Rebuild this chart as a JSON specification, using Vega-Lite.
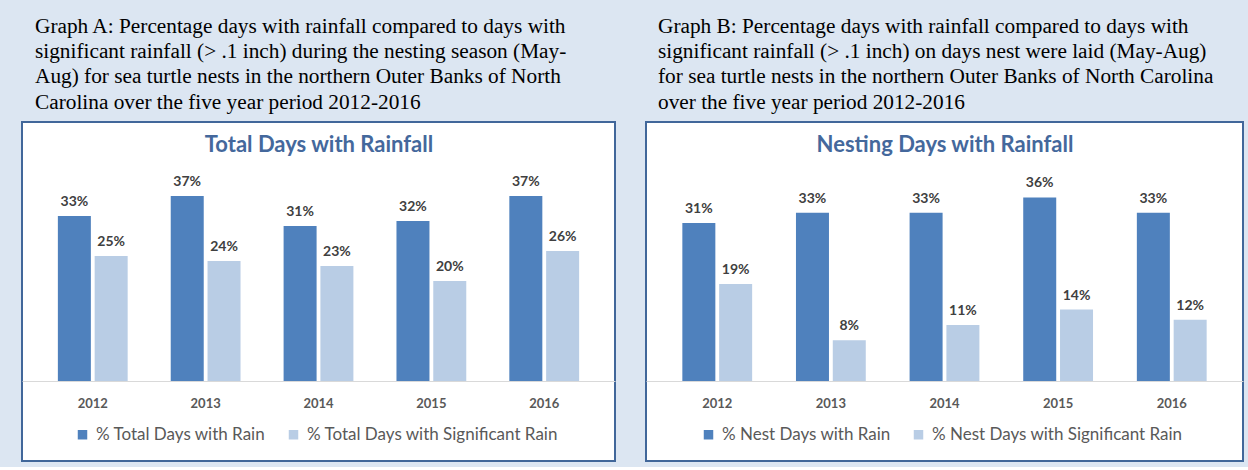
{
  "$schema": "https://vega.github.io/schema/vega-lite/v6.json",
  "background": "#dce6f2",
  "padding": {"left": 21, "top": 14, "right": 5, "bottom": 5},
  "autosize": {"type": "pad"},
  "spacing": 29,
  "datasets": {
    "total": [
      {"year": "2012", "series": "% Total Days with Rain", "value": 0.33},
      {"year": "2012", "series": "% Total Days with Significant Rain", "value": 0.25},
      {"year": "2013", "series": "% Total Days with Rain", "value": 0.37},
      {"year": "2013", "series": "% Total Days with Significant Rain", "value": 0.24},
      {"year": "2014", "series": "% Total Days with Rain", "value": 0.31},
      {"year": "2014", "series": "% Total Days with Significant Rain", "value": 0.23},
      {"year": "2015", "series": "% Total Days with Rain", "value": 0.32},
      {"year": "2015", "series": "% Total Days with Significant Rain", "value": 0.20},
      {"year": "2016", "series": "% Total Days with Rain", "value": 0.37},
      {"year": "2016", "series": "% Total Days with Significant Rain", "value": 0.26}
    ],
    "nest": [
      {"year": "2012", "series": "% Nest Days with Rain", "value": 0.31},
      {"year": "2012", "series": "% Nest Days with Significant Rain", "value": 0.19},
      {"year": "2013", "series": "% Nest Days with Rain", "value": 0.33},
      {"year": "2013", "series": "% Nest Days with Significant Rain", "value": 0.08},
      {"year": "2014", "series": "% Nest Days with Rain", "value": 0.33},
      {"year": "2014", "series": "% Nest Days with Significant Rain", "value": 0.11},
      {"year": "2015", "series": "% Nest Days with Rain", "value": 0.36},
      {"year": "2015", "series": "% Nest Days with Significant Rain", "value": 0.14},
      {"year": "2016", "series": "% Nest Days with Rain", "value": 0.33},
      {"year": "2016", "series": "% Nest Days with Significant Rain", "value": 0.12}
    ]
  },
  "config": {
    "view": {"fill": "#ffffff", "stroke": "#41679a", "strokeWidth": 2},
    "font": "Lato",
    "title": {"font": "Liberation Serif", "fontSize": 21.3, "fontWeight": "normal", "color": "#000000", "anchor": "start", "lineHeight": 25.3, "offset": 9, "frame": "group"},
    "axis": {"grid": false},
    "bar": {"width": 33},
    "text": {"baseline": "alphabetic", "dy": -10, "font": "Lato", "fontSize": 14, "fontWeight": "bold", "color": "#404040"},
    "legend": {"orient": "none", "direction": "horizontal", "symbolType": "square", "symbolSize": 90, "symbolStrokeWidth": 0, "labelFont": "Lato", "labelFontSize": 17, "labelColor": "#595959", "labelLimit": 400, "columnPadding": 19, "labelOffset": 5, "title": null, "legendX": 52, "legendY": 304}
  },
  "resolve": {"scale": {"color": "independent"}, "legend": {"color": "independent"}},
  "hconcat": [
    {
      "width": 593,
      "height": 339,
      "title": {"text": ["Graph A: Percentage days with rainfall compared to days with", "significant rainfall (> .1 inch) during the nesting season (May-", "Aug) for sea turtle nests in the northern Outer Banks of North", "Carolina over the five year period 2012-2016"], "dx": 13},
      "data": {"name": "total"},
      "encoding": {
        "x": {"field": "year", "type": "nominal", "scale": {"paddingInner": 0.386, "paddingOuter": 0.32}, "axis": null},
        "y": {"field": "value", "type": "quantitative", "scale": {"domain": [-0.16, 0.518], "nice": false, "zero": false}, "axis": null}
      },
      "resolve": {"axis": {"x": "independent"}},
      "layer": [
        {
          "transform": [{"filter": "datum.series === '% Total Days with Rain'"}],
          "mark": {"type": "bar", "xOffset": -18.4},
          "encoding": {
            "x": {"field": "year", "type": "nominal",
              "axis": {"orient": "bottom", "offset": -80, "title": null, "domainColor": "#d9d9d9", "domainWidth": 1, "ticks": false, "tickSize": 0, "labelPadding": 26, "labelBaseline": "alphabetic", "labelAngle": 0, "labelFont": "Lato", "labelFontSize": 13, "labelFontWeight": "bold", "labelColor": "#595959"}},
            "color": {"field": "series", "type": "nominal", "scale": {"domain": ["% Total Days with Rain", "% Total Days with Significant Rain"], "range": ["#4f81bd", "#b9cde5"]}}
          }
        },
        {
          "transform": [{"filter": "datum.series === '% Total Days with Significant Rain'"}],
          "mark": {"type": "bar", "xOffset": 18.4},
          "encoding": {
            "color": {"field": "series", "type": "nominal"}
          }
        },
        {
          "transform": [{"filter": "datum.series === '% Total Days with Rain'"}],
          "mark": {"type": "text", "xOffset": -18.4},
          "encoding": {
            "text": {"field": "value", "type": "quantitative", "format": ".0%"}
          }
        },
        {
          "transform": [{"filter": "datum.series === '% Total Days with Significant Rain'"}],
          "mark": {"type": "text", "xOffset": 18.4},
          "encoding": {
            "x": {"field": "year", "type": "nominal",
              "axis": {"orient": "top", "offset": -34, "title": "Total Days with Rainfall", "titleFont": "Lato", "titleFontSize": 22, "titleFontWeight": "bold", "titleColor": "#44689c", "titlePadding": 0, "labels": false, "ticks": false, "domain": false}},
            "text": {"field": "value", "type": "quantitative", "format": ".0%"}
          }
        }
      ]
    },
    {
      "width": 597,
      "height": 339,
      "title": {"text": ["Graph B: Percentage days with rainfall compared to days with", "significant rainfall (> .1 inch) on days nest were laid (May-Aug)", "for sea turtle nests in the northern Outer Banks of North Carolina", "over the five year period 2012-2016"], "dx": 12},
      "data": {"name": "nest"},
      "encoding": {
        "x": {"field": "year", "type": "nominal", "scale": {"paddingInner": 0.386, "paddingOuter": 0.32}, "axis": null},
        "y": {"field": "value", "type": "quantitative", "scale": {"domain": [-0.157, 0.508], "nice": false, "zero": false}, "axis": null}
      },
      "resolve": {"axis": {"x": "independent"}},
      "layer": [
        {
          "transform": [{"filter": "datum.series === '% Nest Days with Rain'"}],
          "mark": {"type": "bar", "xOffset": -18.4},
          "encoding": {
            "x": {"field": "year", "type": "nominal",
              "axis": {"orient": "bottom", "offset": -80, "title": null, "domainColor": "#d9d9d9", "domainWidth": 1, "ticks": false, "tickSize": 0, "labelPadding": 26, "labelBaseline": "alphabetic", "labelAngle": 0, "labelFont": "Lato", "labelFontSize": 13, "labelFontWeight": "bold", "labelColor": "#595959"}},
            "color": {"field": "series", "type": "nominal", "scale": {"domain": ["% Nest Days with Rain", "% Nest Days with Significant Rain"], "range": ["#4f81bd", "#b9cde5"]}, "legend": {"legendX": 54}}
          }
        },
        {
          "transform": [{"filter": "datum.series === '% Nest Days with Significant Rain'"}],
          "mark": {"type": "bar", "xOffset": 18.4},
          "encoding": {
            "color": {"field": "series", "type": "nominal"}
          }
        },
        {
          "transform": [{"filter": "datum.series === '% Nest Days with Rain'"}],
          "mark": {"type": "text", "xOffset": -18.4},
          "encoding": {
            "text": {"field": "value", "type": "quantitative", "format": ".0%"}
          }
        },
        {
          "transform": [{"filter": "datum.series === '% Nest Days with Significant Rain'"}],
          "mark": {"type": "text", "xOffset": 18.4},
          "encoding": {
            "x": {"field": "year", "type": "nominal",
              "axis": {"orient": "top", "offset": -34, "title": "Nesting Days with Rainfall", "titleFont": "Lato", "titleFontSize": 22, "titleFontWeight": "bold", "titleColor": "#44689c", "titlePadding": 0, "labels": false, "ticks": false, "domain": false}},
            "text": {"field": "value", "type": "quantitative", "format": ".0%"}
          }
        }
      ]
    }
  ]
}
